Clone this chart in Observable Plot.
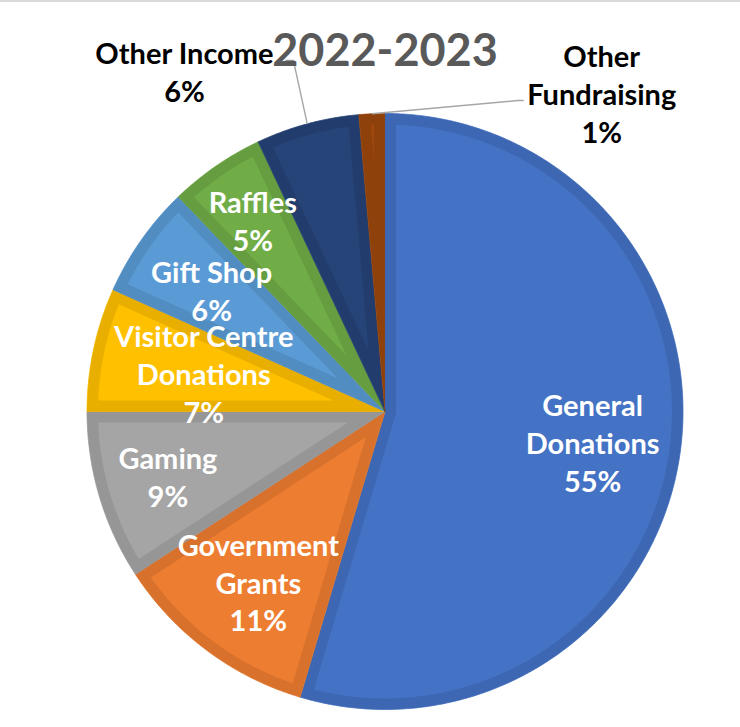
<!DOCTYPE html>
<html><head><meta charset="utf-8">
<script src="https://cdn.jsdelivr.net/npm/d3@7"></script>
<script src="https://cdn.jsdelivr.net/npm/@observablehq/plot@0.6"></script>
<style>
html,body{margin:0;padding:0;background:#fff;}
#chart{width:740px;height:727px;border-top:2px solid #d9d9d9;box-sizing:border-box;overflow:hidden;}
#chart svg{display:block;}
</style></head><body><div id="chart"></div>
<script>
// ---- data ----
const categories = ["General Donations","Government Grants","Gaming","Visitor Centre Donations","Gift Shop","Raffles","Other Income","Other Fundraising"];
const shares = [54.6, 11.2, 9.2, 6.7, 6.1, 5.2, 5.6, 1.4];
const labelNames = ["General\nDonations","Government\nGrants","Gaming","Visitor Centre\nDonations","Gift Shop","Raffles","Other Income","Other\nFundraising"];
const palette = ["#4472C4","#ED7D31","#A5A5A5","#FFC000","#5B9BD5","#70AD47","#264478","#9E480E"];
const title = "2022-2023";

// ---- layout ----
const W = 740, H = 725, R = 298, CX = 384.5, CY = 409;
const inset = 11 / R;
// inside labels: radius fraction along mid-angle
const insideRadius = {"General Donations":0.704,"Government Grants":0.711,"Gaming":0.76,"Visitor Centre Donations":0.622,"Gift Shop":0.711,"Raffles":0.782};
// outside labels: polar position (deg, radius fraction) + leader stub offsets (px from label centre)
const outside = {
  "Other Income": {deg: 329.5, r: 1.326, stub: [[101,-10.5],[109,-10.5]]},
  "Other Fundraising": {deg: 34.2, r: 1.294, stub: [[-78,8],[-84,8]]}
};

const total = d3.sum(shares);
let acc = 0;
const slices = categories.map((c, i) => {
  const a0 = acc / total * 2 * Math.PI; acc += shares[i];
  const a1 = acc / total * 2 * Math.PI;
  return {c, i, a0, a1, mid: (a0 + a1) / 2, pct: Math.round(shares[i] / total * 100)};
});

function arcPts(c, a0, a1, r, out) {
  const n = Math.max(2, Math.ceil((a1 - a0) / (Math.PI / 360)));
  for (let k = 0; k <= n; k++) { const a = a0 + (a1 - a0) * k / n; out.push({cat: c, x: r * Math.sin(a), y: r * Math.cos(a)}); }
}
const outer = [], inner = [];
for (const s of slices) {
  outer.push({cat: s.c, x: 0, y: 0});
  arcPts(s.c, s.a0, s.a1, 1, outer);
  const th = s.a1 - s.a0;
  const ad = inset / Math.sin(th / 2);
  inner.push({cat: s.c, x: ad * Math.sin(s.mid), y: ad * Math.cos(s.mid)});
  const Rp = 1 - inset, del = Math.asin(inset / Rp);
  arcPts(s.c, s.a0 + del, s.a1 - del, Rp, inner);
}

const insideLabels = slices.filter(s => insideRadius[s.c] != null).map(s => ({
  text: labelNames[s.i] + "\n" + s.pct + "%",
  x: insideRadius[s.c] * Math.sin(s.mid), y: insideRadius[s.c] * Math.cos(s.mid)
}));
const outsideLabels = [], leaders = [];
for (const s of slices) {
  const o = outside[s.c]; if (!o) continue;
  const a = o.deg * Math.PI / 180;
  const lx = o.r * Math.sin(a), ly = o.r * Math.cos(a);
  outsideLabels.push({text: labelNames[s.i] + "\n" + s.pct + "%", x: lx, y: ly});
  for (const [dx, dy] of o.stub) leaders.push({cat: s.c, x: lx + dx / R, y: ly - dy / R});
  leaders.push({cat: s.c, x: Math.sin(s.mid), y: Math.cos(s.mid)});
}

const font = "Lato, 'Open Sans', sans-serif";
const chart = Plot.plot({
  width: W, height: H, margin: 0,
  x: {domain: [-CX / R, (W - CX) / R], range: [0, W], axis: null},
  y: {domain: [-(H - CY) / R, CY / R], range: [H, 0], axis: null},
  color: {domain: categories, range: palette},
  marks: [
    Plot.line(outer, {x: "x", y: "y", z: "cat", fill: "cat", stroke: "cat", strokeWidth: 0.8, curve: "linear"}),
    Plot.line(outer, {x: "x", y: "y", z: "cat", fill: "black", fillOpacity: 0.09, stroke: "none", curve: "linear"}),
    Plot.line(inner, {x: "x", y: "y", z: "cat", fill: "cat", stroke: "none", curve: "linear"}),
    Plot.line(leaders, {x: "x", y: "y", z: "cat", stroke: "#a6a6a6", strokeWidth: 1.4, strokeLinecap: "butt", curve: "linear"}),
    Plot.text(insideLabels, {x: "x", y: "y", text: "text", fill: "white", fontFamily: font, fontWeight: 700, fontSize: 29, lineHeight: 1.31}),
    Plot.text(outsideLabels, {x: "x", y: "y", text: "text", fill: "#000", fontFamily: font, fontWeight: 700, fontSize: 29, lineHeight: 1.31}),
    Plot.text([title], {x: () => 0, text: d => d, frameAnchor: "top", lineAnchor: "middle", dy: 49, fill: "#595959", fontFamily: font, fontWeight: 700, fontSize: 45})
  ]
});
document.getElementById("chart").appendChild(chart);
</script></body></html>
